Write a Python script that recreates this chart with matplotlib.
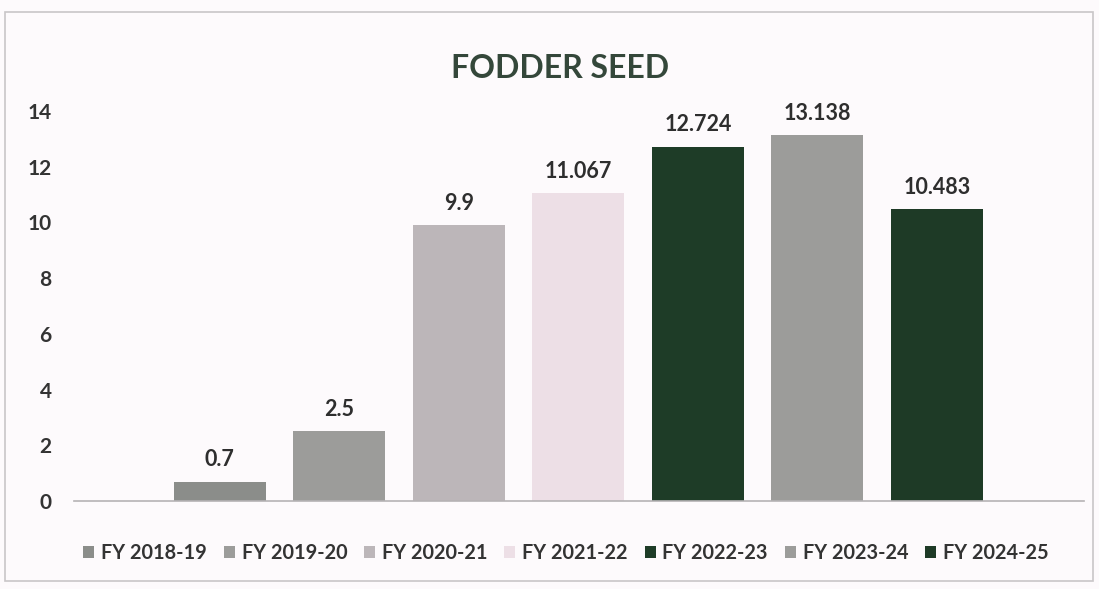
import matplotlib.pyplot as plt
from matplotlib.patches import Rectangle

# FODDER SEED, one bar per financial year
years = ['FY 2018-19', 'FY 2019-20', 'FY 2020-21', 'FY 2021-22',
         'FY 2022-23', 'FY 2023-24', 'FY 2024-25']
values = [0.7, 2.5, 9.9, 11.067, 12.724, 13.138, 10.483]
labels = ['0.7', '2.5', '9.9', '11.067', '12.724', '13.138', '10.483']
colors = ['#8b8d8a', '#9c9c9a', '#bcb6b9', '#eddfe6',
          '#1e3c27', '#9c9c9a', '#1e3a26']

plt.rcParams['font.family'] = ['Lato', 'DejaVu Sans']
plt.rcParams['font.weight'] = 'bold'

fig = plt.figure(figsize=(10.99, 5.89), dpi=100, facecolor='#fdfafc')
ax = fig.add_axes([74/1099, 1-501/589, 1010/1099, 390/589])
ax.set_facecolor('none')

for i in range(len(years)):
    ax.bar(i, values[i], width=0.77, color=colors[i], label=years[i], zorder=2)
    ax.text(i, values[i] + 0.4, labels[i], ha='center', va='bottom',
            fontsize=15.5, fontweight='bold', color='#2e2e2e', clip_on=False)

ax.set_xlim(-1.22, 7.23)
ax.set_ylim(0, 14)
ax.set_yticks(range(0, 15, 2))
ax.set_xticks([])
ax.tick_params(axis='y', length=0, pad=16, labelsize=15, labelcolor='#333333')
for lab in ax.get_yticklabels():
    lab.set_fontweight('bold')
for s in ['top', 'right', 'left']:
    ax.spines[s].set_visible(False)
ax.spines['bottom'].set_color('#b5b2b4')
ax.spines['bottom'].set_linewidth(1.2)

fig.text(0.51, 1-68/589, 'FODDER SEED', ha='center', va='center',
         fontsize=23, fontweight='bold', color='#34473a')

leg = fig.legend(loc='center', bbox_to_anchor=(0.515, 1-553/589), ncol=7,
                 frameon=False, fontsize=14.3, handlelength=0.55, handleheight=0.55,
                 handletextpad=0.35, columnspacing=0.85)
for t in leg.get_texts():
    t.set_color('#333333')
    t.set_fontweight('bold')

# chart border from the scan
fig.patches.append(Rectangle((5/1099, 8/589), 1088/1099, 569/589, transform=fig.transFigure,
                             fill=False, edgecolor='#c9c6c8', linewidth=1.2))

plt.savefig('out.png', dpi=100, facecolor=fig.get_facecolor())
